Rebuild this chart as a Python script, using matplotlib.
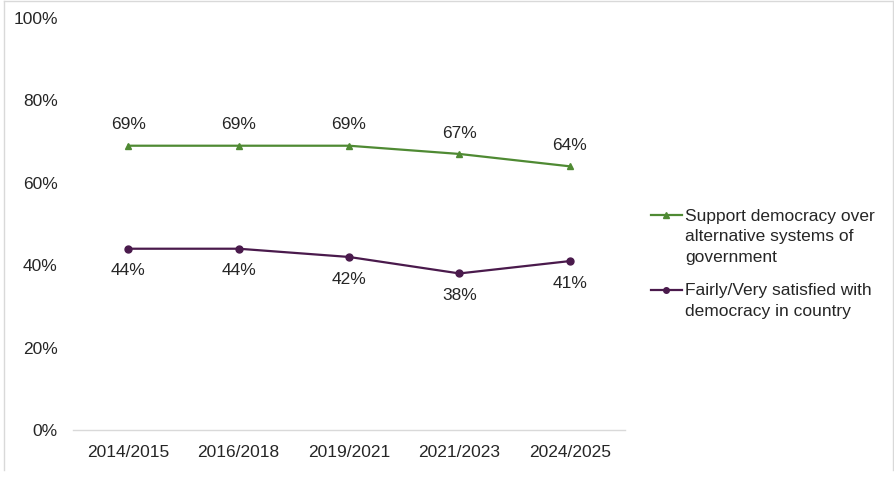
import matplotlib
matplotlib.use("Agg")
import matplotlib.pyplot as plt
from matplotlib.lines import Line2D

categories = ["2014/2015", "2016/2018", "2019/2021", "2021/2023", "2024/2025"]
support = [69, 69, 69, 67, 64]
satisfied = [44, 44, 42, 38, 41]
yticks = [0, 20, 40, 60, 80, 100]
label_support = "Support democracy over\nalternative systems of\ngovernment"
label_satisfied = "Fairly/Very satisfied with\ndemocracy in country"

plt.rcParams['font.family'] = ['Liberation Sans', 'DejaVu Sans']
FS = 12.5
TXT = '#262626'

W, H = 894, 484
fig = plt.figure(figsize=(W/100, H/100), dpi=100)
fig.patch.set_facecolor('white')

def px(xp, yp):
    return xp / W, 1 - yp / H

# outer frame (left, top, right; bottom is cropped in the reference)
frame_c = '#d9d9d9'
for (x0, y0), (x1, y1) in [((4, 470), (4, 1)), ((4, 1), (893, 1)), ((893, 1), (893, 470))]:
    a, b = px(x0, y0)
    c, d = px(x1, y1)
    fig.add_artist(Line2D([a, c], [b, d], transform=fig.transFigure, color=frame_c, lw=1.0))

ax = fig.add_axes([73/W, (H-430)/H, (625-73)/W, (430-18)/H])
green = '#4f8a33'
purple = '#4a1a4c'
x = list(range(len(categories)))
ax.plot(x, support, color=green, lw=1.6, marker='^', ms=5)
ax.plot(x, satisfied, color=purple, lw=1.6, marker='o', ms=5)

for xi, v in zip(x, support):
    ax.annotate(f"{v}%", (xi, v), xytext=(0, 15), textcoords='offset points',
                ha='center', va='center', fontsize=FS, color=TXT)
for xi, v in zip(x, satisfied):
    ax.annotate(f"{v}%", (xi, v), xytext=(0, -16), textcoords='offset points',
                ha='center', va='center', fontsize=FS, color=TXT)

ax.set_xlim(-0.5, len(categories) - 0.5)
ax.set_ylim(0, 100)
ax.set_xticks(x)
ax.set_xticklabels(categories, fontsize=FS, color=TXT)
ax.set_yticks(yticks)
ax.set_yticklabels([f"{t}%" for t in yticks], fontsize=FS, color=TXT)
ax.tick_params(axis='both', length=0)
ax.tick_params(axis='x', pad=11)
ax.tick_params(axis='y', pad=11)
for s in ['left', 'right', 'top']:
    ax.spines[s].set_visible(False)
ax.spines['bottom'].set_color('#d9d9d9')
ax.spines['bottom'].set_linewidth(1.0)

# legend (handle aligned with first text line, as in the reference)
entries = [(label_support, green, '^', 215, [221, 241, 262]),
           (label_satisfied, purple, 'o', 290, [295, 316])]
for label, col, mk, yh, baselines in entries:
    a, b = px(651, yh)
    c, _ = px(682, yh)
    fig.add_artist(Line2D([a, c], [b, b], transform=fig.transFigure, color=col, lw=1.6))
    fig.add_artist(Line2D([(a + c) / 2], [b], transform=fig.transFigure, color=col,
                          marker=mk, ms=4, lw=0))
    for line, yb in zip(label.split('\n'), baselines):
        tx, ty = px(685, yb)
        fig.text(tx, ty, line, fontsize=FS, color=TXT, ha='left', va='baseline')

fig.savefig("out.png", dpi=100, facecolor='white')
